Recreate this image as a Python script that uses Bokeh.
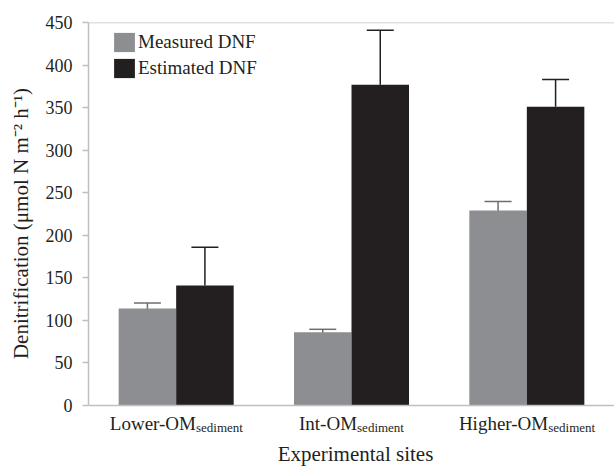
from bokeh.plotting import figure
from bokeh.models import (ColumnDataSource, FactorRange, Range1d, FixedTicker, Whisker, TeeHead,
                          Span, Legend, LegendItem)
from bokeh.core.properties import value
from bokeh.transform import dodge
from bokeh.embed import file_html
from bokeh.resources import INLINE

# ---- data ----
categories = ["Lower-OM", "Int-OM", "Higher-OM"]
subscripts = ["sediment", "sediment", "sediment"]
measured = [114, 86, 229]
measured_err = [6.5, 3.5, 10.7]
estimated = [141, 377, 351]
estimated_err_up = [45, 64, 32]
y_ticks = [0, 50, 100, 150, 200, 250, 300, 350, 400, 450]
series_names = ["Measured DNF", "Estimated DNF"]
x_title = "Experimental sites"
y_title = "Denitrification (\u03bcmol N m\u207b\u00b2 h\u207b\u00b9)"

# ---- styles ----
FONT = "Liberation Serif"
GRAY = "#8d8e91"
BLACK = "#231f20"
ERR_GRAY = "#6d6e71"
AXIS_GRAY = "#c0c0c0"
BAR_W = 0.328
Y_TOP = 450
Y_BELOW = -71.7   # extra room under the zero line for the category labels and title
Y_TITLE_PAD = "\u00a0" * 8   # nudges the rotated title up along the axis

src = ColumnDataSource(dict(
    cat=categories,
    sub=subscripts,
    meas=measured,
    meas_lo=[m - e for m, e in zip(measured, measured_err)],
    meas_hi=[m + e for m, e in zip(measured, measured_err)],
    est=estimated,
    est_lo=estimated,
    est_hi=[m + e for m, e in zip(estimated, estimated_err_up)],
))

p = figure(width=614, height=466, x_range=FactorRange(factors=categories, range_padding=0),
           y_range=Range1d(Y_BELOW, Y_TOP), output_backend="svg", toolbar_location=None,
           min_border_left=88, min_border_right=0, min_border_top=22, min_border_bottom=0)
p.outline_line_color = None
p.xgrid.grid_line_color = None
p.ygrid.grid_line_color = None
p.background_fill_color = "white"
p.xaxis.visible = False

r1 = p.vbar(x=dodge("cat", -BAR_W / 2, range=p.x_range), top="meas", width=BAR_W,
            source=src, fill_color=GRAY, line_color=None)
r2 = p.vbar(x=dodge("cat", BAR_W / 2, range=p.x_range), top="est", width=BAR_W,
            source=src, fill_color=BLACK, line_color=None)

w1 = Whisker(base=dodge("cat", -BAR_W / 2, range=p.x_range), lower="meas_lo", upper="meas_hi",
             source=src, line_color=ERR_GRAY, line_width=1.5,
             upper_head=TeeHead(size=27, line_color=ERR_GRAY, line_width=1.5),
             lower_head=TeeHead(size=27, line_color=ERR_GRAY, line_width=1.5))
w2 = Whisker(base=dodge("cat", BAR_W / 2, range=p.x_range), lower="est_lo", upper="est_hi",
             source=src, line_color=BLACK, line_width=1.5,
             upper_head=TeeHead(size=27, line_color=BLACK, line_width=1.5),
             lower_head=TeeHead(size=0, line_color=None))
p.add_layout(w1)
p.add_layout(w2)

# top border and zero (category axis) line
p.add_layout(Span(location=Y_TOP, dimension="width", line_color=AXIS_GRAY, line_width=1.5))
p.add_layout(Span(location=0, dimension="width", line_color=AXIS_GRAY, line_width=1.5))

# y axis
p.yaxis.ticker = FixedTicker(ticks=y_ticks)
p.yaxis.bounds = (0, Y_TOP)
p.yaxis.axis_line_color = AXIS_GRAY
p.yaxis.axis_line_width = 1.5
p.yaxis.major_tick_line_color = AXIS_GRAY
p.yaxis.major_tick_line_width = 1.5
p.yaxis.major_tick_out = 6
p.yaxis.major_tick_in = 0
p.yaxis.minor_tick_line_color = None
p.yaxis.major_label_text_font = FONT
p.yaxis.major_label_text_font_size = "18px"
p.yaxis.major_label_text_color = BLACK
p.yaxis.major_label_standoff = 10
p.yaxis.axis_label = Y_TITLE_PAD + y_title
p.yaxis.axis_label_text_font = FONT
p.yaxis.axis_label_text_font_size = "21px"
p.yaxis.axis_label_text_font_style = "normal"
p.yaxis.axis_label_text_color = BLACK
p.yaxis.axis_label_standoff = 10

# category labels with subscript (junction offsets from estimated text widths)
MAIN_PX, SUB_PX = 19, 13
def _w(s, em):
    widths = {"L": .611, "o": .5, "w": .722, "e": .444, "r": .333, "-": .333, "O": .722,
              "M": .889, "I": .333, "n": .5, "t": .278, "H": .722, "i": .278, "g": .5,
              "h": .5, "s": .389, "d": .5, "m": .778}
    return sum(widths.get(c, .5) for c in s) * em
offs = []
for c, s in zip(categories, subscripts):
    mw, sw = _w(c, MAIN_PX), _w(s, SUB_PX)
    offs.append(mw - (mw + sw) / 2)
src.data["off"] = offs

p.text(x="cat", y=0, text="cat", x_offset="off", y_offset=18, source=src,
       text_align="right", text_baseline="alphabetic", text_font=value(FONT),
       text_font_size=f"{MAIN_PX}px", text_color=BLACK)
p.text(x="cat", y=0, text="sub", x_offset="off", y_offset=22, source=src,
       text_align="left", text_baseline="alphabetic", text_font=value(FONT),
       text_font_size=f"{SUB_PX}px", text_color=BLACK)

# x-axis title, centred under the middle category
p.text(x=[categories[1]], y=[0], text=[x_title], x_offset=4, y_offset=49,
       text_align="center", text_baseline="alphabetic", text_font=value(FONT),
       text_font_size="21px", text_color=BLACK)

legend = Legend(items=[LegendItem(label=series_names[0], renderers=[r1]),
                       LegendItem(label=series_names[1], renderers=[r2])],
                location=(23, 386), orientation="vertical")
legend.border_line_color = None
legend.background_fill_alpha = 0
legend.padding = 0
legend.margin = 0
legend.spacing = 2
legend.glyph_width = 26
legend.glyph_height = 24
legend.label_height = 24
legend.label_standoff = 1
legend.label_text_font = FONT
legend.label_text_font_size = "19px"
legend.label_text_color = BLACK
p.add_layout(legend)

open("out.html", "w").write(file_html(p, INLINE))
